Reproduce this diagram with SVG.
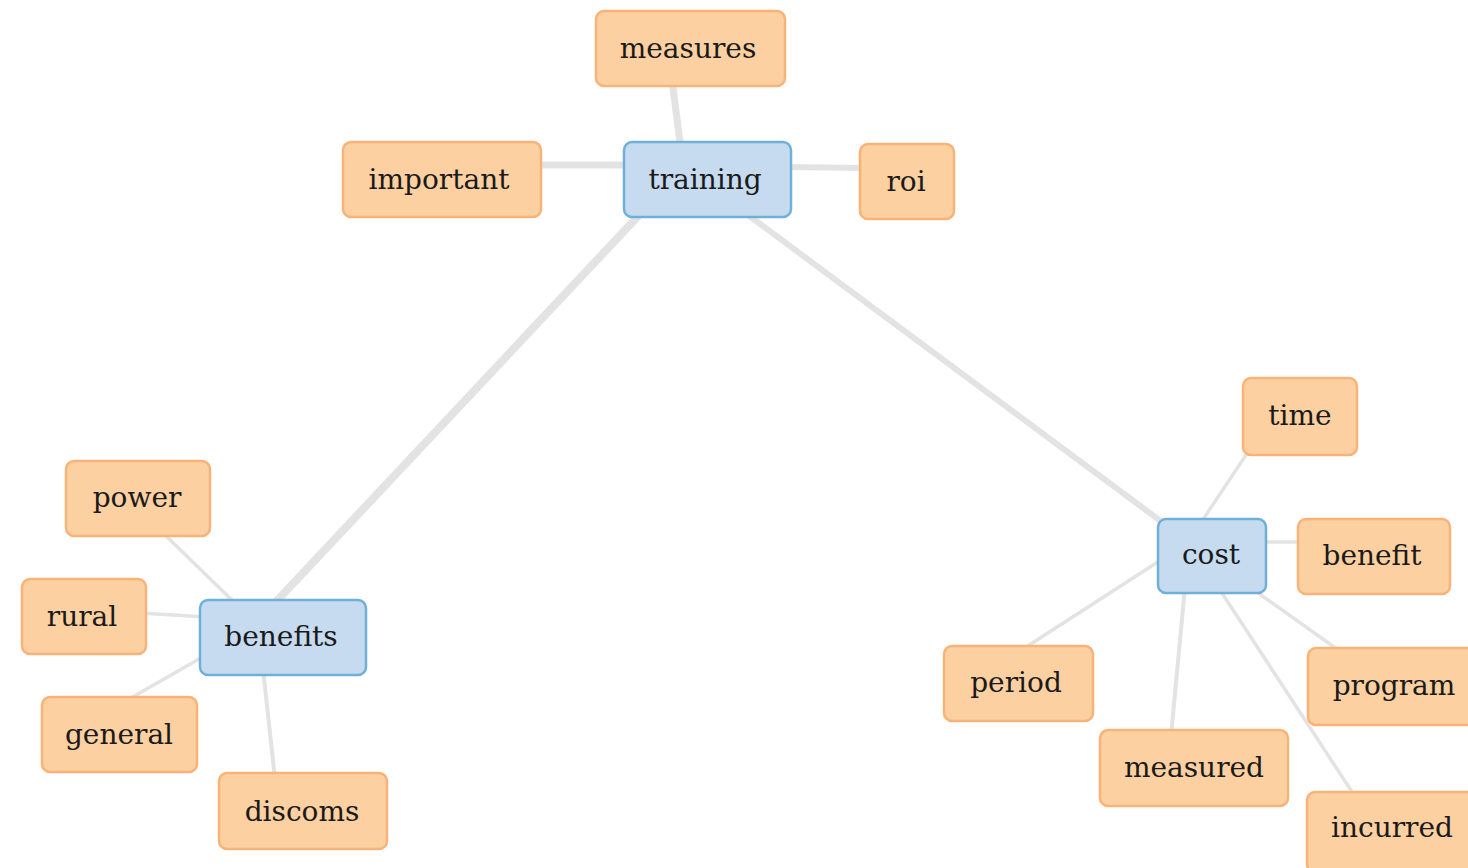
<svg xmlns="http://www.w3.org/2000/svg" width="1468" height="868" viewBox="0 0 1468 868">
  <style>
    .edge { stroke: #e3e3e3; stroke-linecap: butt; fill: none; }
    .term rect { fill: #fcd0a1; stroke: #f9b277; stroke-width: 2.5; }
    .hub rect { fill: #c6dbef; stroke: #6fb0d8; stroke-width: 2.5; }
    text { font-family: "DejaVu Serif", "Liberation Serif", serif; font-size: 28px; fill: #1a1a1a; text-anchor: middle; }
  </style>
  <rect width="1468" height="868" fill="#ffffff"/>

  <g id="connectors">
    <line class="edge" x1="672" y1="80" x2="681" y2="150" stroke-width="7"/>
    <line class="edge" x1="535" y1="165" x2="630" y2="165" stroke-width="7"/>
    <line class="edge" x1="785" y1="167" x2="866" y2="168" stroke-width="6"/>
    <line class="edge" x1="642" y1="212" x2="272" y2="606" stroke-width="8"/>
    <line class="edge" x1="744" y1="212" x2="1166" y2="525" stroke-width="6"/>
    <line class="edge" x1="1200" y1="524" x2="1250" y2="449" stroke-width="3.5"/>
    <line class="edge" x1="1260" y1="542" x2="1304" y2="542" stroke-width="3.5"/>
    <line class="edge" x1="1164" y1="558" x2="1020" y2="651" stroke-width="3.5"/>
    <line class="edge" x1="1185" y1="587" x2="1171" y2="736" stroke-width="4"/>
    <line class="edge" x1="1254" y1="590" x2="1344" y2="654" stroke-width="3.5"/>
    <line class="edge" x1="1218" y1="587" x2="1356" y2="798" stroke-width="3.5"/>
    <line class="edge" x1="160" y1="530" x2="238" y2="606" stroke-width="3.5"/>
    <line class="edge" x1="140" y1="613" x2="206" y2="617" stroke-width="3.5"/>
    <line class="edge" x1="124" y1="702" x2="206" y2="655" stroke-width="3.5"/>
    <line class="edge" x1="263" y1="669" x2="275" y2="779" stroke-width="4"/>
  </g>

  <g id="node-measures" class="term">
    <rect x="596" y="11" width="189" height="75" rx="8"/>
    <text x="688" y="58">measures</text>
  </g>
  <g id="node-important" class="term">
    <rect x="343" y="142" width="198" height="75" rx="8"/>
    <text x="439" y="189">important</text>
  </g>
  <g id="node-training" class="hub">
    <rect x="624" y="142" width="167" height="75" rx="8"/>
    <text x="705" y="189">training</text>
  </g>
  <g id="node-roi" class="term">
    <rect x="860" y="144" width="94" height="75" rx="8"/>
    <text x="906" y="191">roi</text>
  </g>
  <g id="node-time" class="term">
    <rect x="1243" y="378" width="114" height="77" rx="8"/>
    <text x="1300" y="425">time</text>
  </g>
  <g id="node-cost" class="hub">
    <rect x="1158" y="519" width="108" height="74" rx="8"/>
    <text x="1211" y="564">cost</text>
  </g>
  <g id="node-benefit" class="term">
    <rect x="1298" y="519" width="152" height="75" rx="8"/>
    <text x="1372" y="565">benefit</text>
  </g>
  <g id="node-period" class="term">
    <rect x="944" y="646" width="149" height="75" rx="8"/>
    <text x="1016" y="692">period</text>
  </g>
  <g id="node-program" class="term">
    <rect x="1308" y="648" width="170" height="77" rx="8"/>
    <text x="1394" y="695">program</text>
  </g>
  <g id="node-measured" class="term">
    <rect x="1100" y="730" width="188" height="76" rx="8"/>
    <text x="1194" y="777">measured</text>
  </g>
  <g id="node-incurred" class="term">
    <rect x="1307" y="792" width="170" height="80" rx="8"/>
    <text x="1392" y="837">incurred</text>
  </g>
  <g id="node-power" class="term">
    <rect x="66" y="461" width="144" height="75" rx="8"/>
    <text x="137" y="507">power</text>
  </g>
  <g id="node-rural" class="term">
    <rect x="22" y="579" width="124" height="75" rx="8"/>
    <text x="82" y="626">rural</text>
  </g>
  <g id="node-benefits" class="hub">
    <rect x="200" y="600" width="166" height="75" rx="8"/>
    <text x="281" y="646">benefits</text>
  </g>
  <g id="node-general" class="term">
    <rect x="42" y="697" width="155" height="75" rx="8"/>
    <text x="119" y="744">general</text>
  </g>
  <g id="node-discoms" class="term">
    <rect x="219" y="773" width="168" height="76" rx="8"/>
    <text x="302" y="821">discoms</text>
  </g>
</svg>
